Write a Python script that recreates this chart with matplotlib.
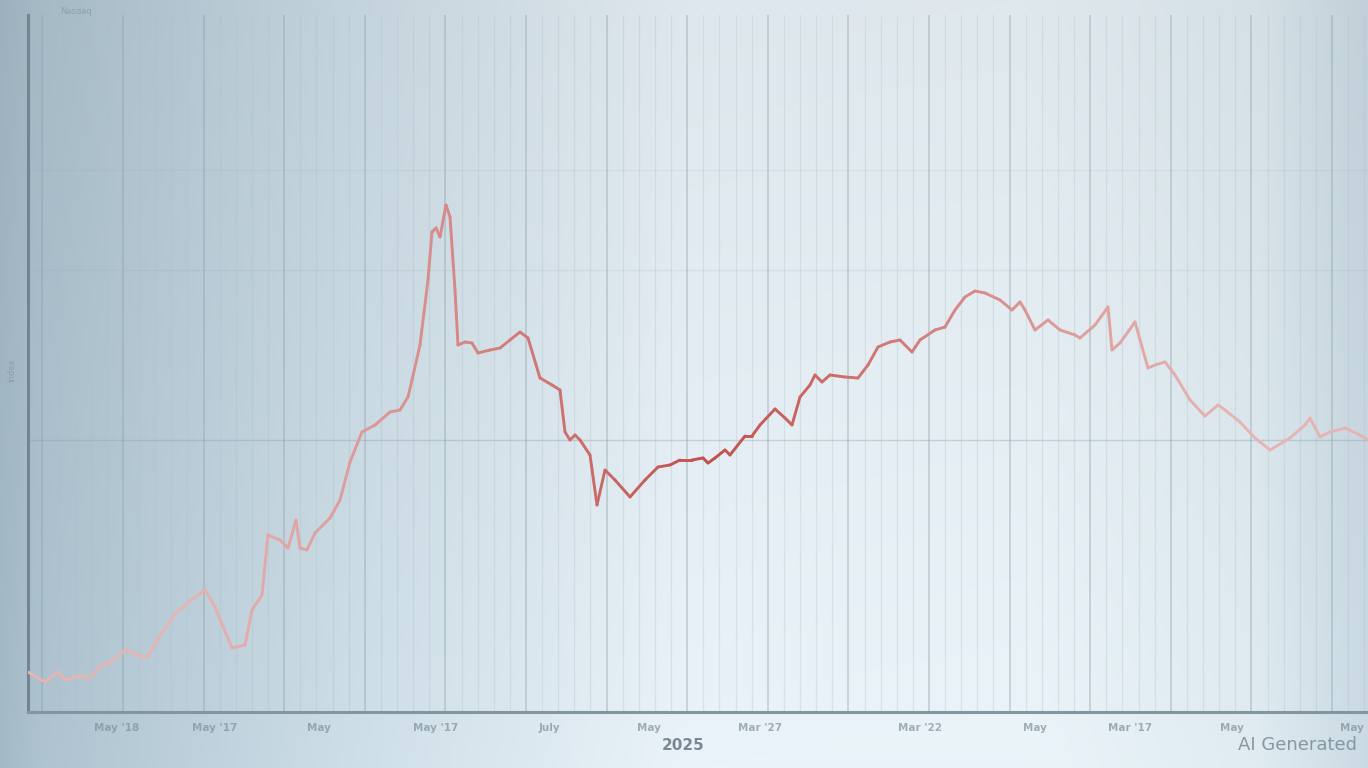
import numpy as np
import matplotlib
matplotlib.use("Agg")
import matplotlib.pyplot as plt
from matplotlib.collections import LineCollection
from matplotlib.colors import to_rgb

# series (day index, index level)
days = [0, 17, 30, 37, 52, 62, 72, 82, 97, 112, 120, 132, 147, 162, 177, 187,
        204, 217, 224, 234, 240, 252, 260, 268, 272, 279, 287, 302, 312, 322,
        334, 347, 362, 372, 380, 384, 392, 400, 404, 408, 412, 418, 422, 427,
        430, 437, 444, 450, 462, 472, 482, 492, 500, 512, 524, 532, 537, 542,
        547, 552, 562, 569, 577, 587, 602, 617, 630, 642, 652, 664, 675, 680,
        687, 697, 702, 717, 724, 732, 747, 757, 764, 772, 782, 787, 794, 802,
        817, 830, 840, 850, 862, 872, 884, 892, 907, 917, 927, 937, 947, 957,
        972, 984, 992, 997, 1007, 1020, 1032, 1047, 1052, 1067, 1080, 1084,
        1092, 1107, 1120, 1127, 1137, 1147, 1162, 1177, 1190, 1197, 1212, 1227,
        1242, 1262, 1277, 1282, 1292, 1302, 1317, 1332, 1340]
values = [40, 30, 40, 32, 36, 34, 46, 49, 62, 56, 56, 76, 98, 111, 122, 105,
          64, 67, 102, 117, 177, 172, 164, 192, 164, 162, 179, 194, 212, 250,
          280, 287, 300, 302, 315, 332, 367, 432, 480, 484, 475, 507, 495, 422,
          367, 370, 369, 359, 362, 364, 372, 380, 374, 334, 327, 322, 280, 272,
          277, 272, 257, 207, 242, 232, 215, 232, 245, 247, 252, 252, 254, 249,
          254, 262, 257, 276, 276, 287, 303, 294, 287, 315, 327, 337, 330, 337,
          335, 334, 347, 365, 370, 372, 360, 372, 382, 385, 402, 415, 421, 419,
          412, 402, 410, 402, 382, 392, 382, 377, 374, 387, 405, 362, 369, 390,
          344, 347, 350, 337, 312, 296, 307, 302, 290, 274, 262, 274, 287, 294,
          275, 280, 284, 277, 272]

tick_pos = [89, 187, 291, 408, 521, 621, 732, 892, 1007, 1102, 1204, 1324]
tick_labels = ["May '18", "May '17", "May", "May '17", "July", "May",
               "Mar '27", "Mar '22", "May", "Mar '17", "May", "May"]
ytick_pos = [272, 442, 542]
year_label = "2025"

W, H = 1368, 768
fig = plt.figure(figsize=(W / 100, H / 100), dpi=100)

# soft blue-grey backdrop
bg = fig.add_axes([0, 0, 1, 1], zorder=0)
xs = np.linspace(0, 1, 400)
ys = np.linspace(0, 1, 200)
ctrl_x = [0.0, 0.03, 0.25, 0.5, 0.75, 0.92, 1.0]
ctrl = np.array([[160, 182, 194], [170, 191, 203], [200, 216, 225],
                 [228, 237, 243], [229, 238, 243], [218, 230, 236],
                 [198, 213, 222]]) / 255
prof = np.stack([np.interp(xs, ctrl_x, ctrl[:, i]) for i in range(3)], axis=1)
shade = 1 - 0.05 * (ys[:, None] - 0.5)
img = np.clip(prof[None, :, :] * shade[:, :, None], 0, 1)
bg.imshow(img, aspect="auto", extent=[0, 1, 0, 1], origin="lower")
bg.set_axis_off()

ax = fig.add_axes([28 / W, 56 / H, 1 - 28 / W, 697 / H], zorder=1)
ax.patch.set_alpha(0)
ax.set_xlim(0, 1340)
ax.set_ylim(0, 697)

# vertical grid: heavier lines plus fine ones in between
major_step = 80.6
for k, gx in enumerate(np.arange(95 - major_step, 1340, major_step / 5)):
    if gx <= 2:
        continue
    if k % 5 == 0:
        ax.axvline(gx, color="#8fa2ad", lw=1.2, alpha=0.45, zorder=1)
    else:
        ax.axvline(gx, color="#aebec7", lw=0.9, alpha=0.3, zorder=1)
for gy, a in zip(ytick_pos, [0.4, 0.15, 0.12]):
    ax.axhline(gy, color="#8fa2ad", lw=1.0, alpha=a, zorder=1)

# the line: opaque colours blended toward the backdrop away from the middle
x = np.array(days, dtype=float)
y = np.array(values, dtype=float)
pts = np.column_stack([x, y]).reshape(-1, 1, 2)
segs = np.concatenate([pts[:-1], pts[1:]], axis=1)
mid = (x[:-1] + x[1:]) / 2
fade = np.clip(1 - np.abs(mid - 680) / 540, 0, 1) ** 1.3
red = np.array(to_rgb("#c24f4b"))
pale = np.array(to_rgb("#e9c0c0"))
cols = [tuple(pale + (red - pale) * (0.1 + 0.9 * f)) for f in fade]
lc = LineCollection(segs, colors=cols, linewidths=2.1, capstyle="round",
                    joinstyle="round", zorder=3)
ax.add_collection(lc)

for side in ["top", "right"]:
    ax.spines[side].set_visible(False)
ax.spines["left"].set_color("#728690")
ax.spines["left"].set_linewidth(2.2)
ax.spines["bottom"].set_color("#8396a0")
ax.spines["bottom"].set_linewidth(2.2)

ax.set_xticks(tick_pos, tick_labels)
ax.tick_params(axis="x", length=0, pad=8, labelsize=7.5, labelcolor="#7f9099")
ax.set_yticks(ytick_pos, ["", "", ""])
ax.tick_params(axis="y", length=0)
for lbl in ax.get_xticklabels():
    lbl.set_fontweight("bold")
    lbl.set_alpha(0.7)

fig.text(683 / W, 1 - 745 / H, year_label, ha="center", va="center",
         fontsize=11, fontweight="bold", color="#5c6d77", alpha=0.8)
fig.text(60 / W, 1 - 12 / H, "Nasdaq", ha="left", va="center",
         fontsize=6, color="#72858f", alpha=0.5)
fig.text(12 / W, 1 - 370 / H, "Index", ha="center", va="center",
         rotation=90, fontsize=6, color="#72858f", alpha=0.5)
fig.text(1357 / W, 1 - 745 / H, "AI Generated", ha="right", va="center",
         fontsize=13, color="#8797a1")

fig.savefig("out.png", dpi=100)
